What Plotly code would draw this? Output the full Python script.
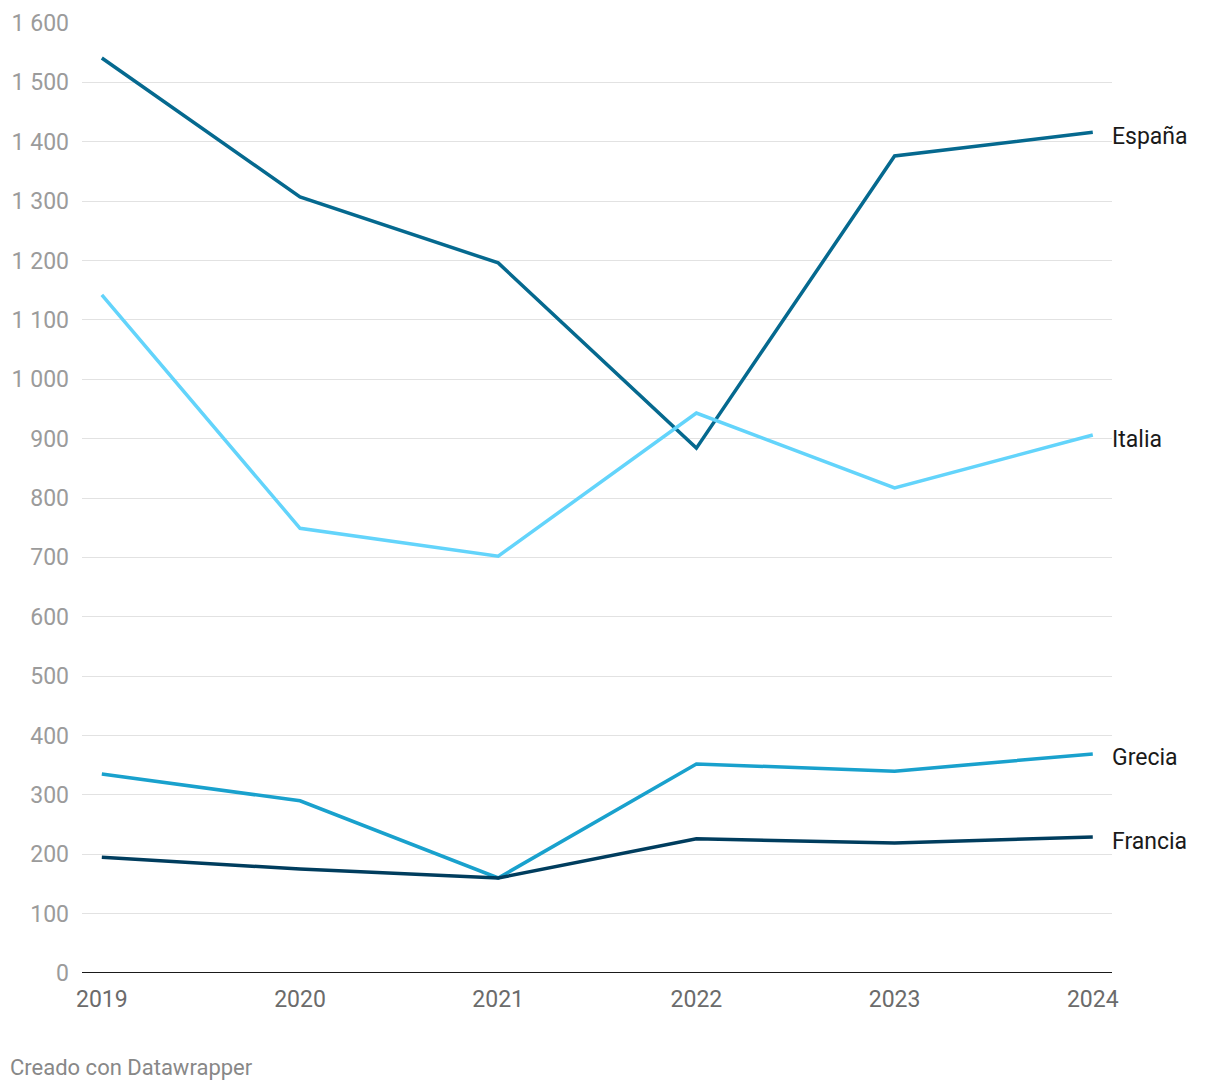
import plotly.graph_objects as go

years = [2019, 2020, 2021, 2022, 2023, 2024]
espana = [1541, 1307, 1196, 884, 1376, 1416]
italia = [1142, 749, 702, 943, 817, 906]
grecia = [335, 290, 160, 352, 340, 369]
francia = [195, 175, 160, 226, 219, 229]

series = [
    ("España", espana, "#05698f"),
    ("Italia", italia, "#63d4fb"),
    ("Grecia", grecia, "#19a1cd"),
    ("Francia", francia, "#003d5e"),
]

ytickvals = list(range(0, 1700, 100))
yticktext = [f"{v:,}".replace(",", " ") for v in ytickvals]

# page has an 8px body offset; plot area in page: x 82..1112, y 23..973
L, T = 74, 15
R = 1220 - 1104
B = 1090 - 965
PH = 1090 - T - B

fig = go.Figure()
for name, vals, col in series:
    fig.add_trace(go.Scatter(x=years, y=vals, mode="lines", name=name,
                             line=dict(color=col, width=3.5), showlegend=False))
    fig.add_annotation(x=1, xref="paper", y=vals[-1], yref="y", text=name,
                       showarrow=False, xanchor="left", yanchor="middle",
                       xshift=-2, yshift=-4,
                       font=dict(size=23, color="#1a1a1a", family="Roboto"))

fig.update_layout(
    width=1220, height=1090,
    margin=dict(l=L, r=R, t=T, b=B),
    paper_bgcolor="white", plot_bgcolor="white",
    font=dict(family="Roboto", size=23),
    xaxis=dict(range=[2018.9, 2024.097], tickvals=years, ticktext=[str(y) for y in years],
               showgrid=False, zeroline=False, showline=False, automargin=False,
               tickfont=dict(size=23, color="#6b6b6b"), ticks="", ticklabelstandoff=10),
    yaxis=dict(range=[0, 1600], tickvals=ytickvals, ticktext=yticktext,
               showgrid=True, gridcolor="#e2e2e2", gridwidth=1, automargin=False,
               zeroline=False, showline=False, ticks="",
               tickfont=dict(size=23, color="#9b9b9b"), ticklabelstandoff=12),
)
fig.add_shape(type="line", xref="paper", yref="y", x0=0, x1=1, y0=0, y1=0,
              line=dict(color="#1a1a1a", width=2), layer="above")
fig.add_annotation(x=0, xref="paper", y=-(1059 - (1090 - B)) / PH, yref="paper",
                   text="Creado con Datawrapper", showarrow=False,
                   xanchor="left", yanchor="middle", xshift=-(L - 0),
                   font=dict(size=22, color="#888888", family="Roboto"))

fig.write_html("out.html")
